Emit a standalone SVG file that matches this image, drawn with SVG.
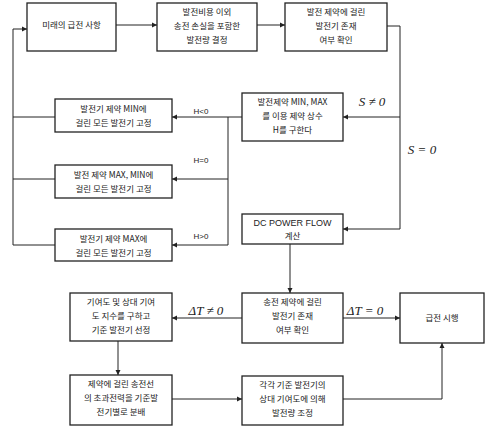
<svg xmlns="http://www.w3.org/2000/svg" width="486" height="427" viewBox="0 0 486 427">
<style>
.box{fill:#fff;stroke:#222;stroke-width:1.3}
.t{font-family:"Noto Sans CJK KR","Liberation Sans",sans-serif;font-size:8.5px;fill:#222;text-anchor:middle}
.lb{font-family:"Liberation Sans",sans-serif;font-size:8px;fill:#222;text-anchor:middle}
.m{font-family:"Liberation Serif",serif;font-style:italic;font-size:13px;fill:#222;text-anchor:middle}
.c{fill:none;stroke:#222;stroke-width:1}
</style>
<defs>
<marker id="a" markerWidth="6" markerHeight="6" refX="5" refY="3" orient="auto" markerUnits="userSpaceOnUse">
<path d="M0,0.5 L5,3 L0,5.5 Z" fill="#222"/>
</marker>
</defs>
<g id="connectors">
<path class="c" d="M116,25 H157" marker-end="url(#a)"/>
<path class="c" d="M257,25 H285" marker-end="url(#a)"/>
<path class="c" d="M387,26 H400 V229 H343" marker-end="url(#a)"/>
<path class="c" d="M400,117 H343" marker-end="url(#a)"/>
<path class="c" d="M242,117 H172" marker-end="url(#a)"/>
<path class="c" d="M228,117 V245 H172" marker-end="url(#a)"/>
<path class="c" d="M228,179 H172" marker-end="url(#a)"/>
<path class="c" d="M55,117 H13"/>
<path class="c" d="M55,179 H13"/>
<path class="c" d="M55,245 H13 V29 H27" marker-end="url(#a)"/>
<path class="c" d="M290,244 V293" marker-end="url(#a)"/>
<path class="c" d="M242,318 H172" marker-end="url(#a)"/>
<path class="c" d="M343,318 H400" marker-end="url(#a)"/>
<path class="c" d="M118,341 V375" marker-end="url(#a)"/>
<path class="c" d="M172,399 H242" marker-end="url(#a)"/>
<path class="c" d="M343,399 H442 V343" marker-end="url(#a)"/>
<text class="m" x="372" y="106">S ≠ 0</text>
<text class="m" x="422" y="154">S = 0</text>
<text class="lb" x="201" y="114">H&lt;0</text>
<text class="lb" x="201" y="163">H=0</text>
<text class="lb" x="201" y="239">H&gt;0</text>
<text class="m" x="206" y="315">ΔT ≠ 0</text>
<text class="m" x="365" y="315">ΔT = 0</text>
</g>
<g id="n1"><rect class="box" x="27" y="3" width="89" height="48"/><text class="t" x="71.5" y="28">미래의 급전 사항</text></g>
<g id="n2"><rect class="box" x="157" y="3" width="100" height="48"/><text class="t" x="207" y="15">발전비용 이외</text><text class="t" x="207" y="29">송전 손실을 포함한</text><text class="t" x="207" y="43">발전량 결정</text></g>
<g id="n3"><rect class="box" x="285" y="3" width="102" height="48"/><text class="t" x="336" y="15">발전 제약에 걸린</text><text class="t" x="336" y="29">발전기 존재</text><text class="t" x="336" y="43">여부 확인</text></g>
<g id="n4"><rect class="box" x="242" y="93" width="101" height="48"/><text class="t" x="292.5" y="105">발전제약 MIN, MAX</text><text class="t" x="292.5" y="119">를 이용 제약 상수</text><text class="t" x="292.5" y="133">H를 구한다</text></g>
<g id="n5"><rect class="box" x="55" y="99" width="117" height="33"/><text class="t" x="113.5" y="112">발전기 제약 MIN에</text><text class="t" x="113.5" y="126">걸린 모든 발전기 고정</text></g>
<g id="n6"><rect class="box" x="55" y="165" width="117" height="33"/><text class="t" x="113.5" y="178">발전 제약 MAX, MIN에</text><text class="t" x="113.5" y="192">걸린 모든 발전기 고정</text></g>
<g id="n7"><rect class="box" x="55" y="229" width="117" height="32"/><text class="t" x="113.5" y="242">발전기 제약 MAX에</text><text class="t" x="113.5" y="256">걸린 모든 발전기 고정</text></g>
<g id="n8"><rect class="box" x="242" y="214" width="101" height="30"/><text class="lb" x="292.5" y="226" style="font-size:9px">DC POWER FLOW</text><text class="t" x="292.5" y="239">계산</text></g>
<g id="n9"><rect class="box" x="242" y="293" width="101" height="50"/><text class="t" x="292.5" y="305">송전 제약에 걸린</text><text class="t" x="292.5" y="319">발전기 존재</text><text class="t" x="292.5" y="333">여부 확인</text></g>
<g id="n10"><rect class="box" x="400" y="293" width="84" height="50"/><text class="t" x="442" y="321">급전 시행</text></g>
<g id="n11"><rect class="box" x="70" y="293" width="102" height="48"/><text class="t" x="121" y="305">기여도 및 상대 기여</text><text class="t" x="121" y="319">도 지수를 구하고</text><text class="t" x="121" y="333">기준 발전기 선정</text></g>
<g id="n12"><rect class="box" x="70" y="375" width="102" height="50"/><text class="t" x="121" y="387">제약에 걸린 송전선</text><text class="t" x="121" y="401">의 초과전력을 기준발</text><text class="t" x="121" y="415">전기별로 분배</text></g>
<g id="n13"><rect class="box" x="242" y="376" width="101" height="49"/><text class="t" x="292.5" y="388">각각 기준 발전기의</text><text class="t" x="292.5" y="402">상대 기여도에 의해</text><text class="t" x="292.5" y="416">발전량 조정</text></g>
</svg>
